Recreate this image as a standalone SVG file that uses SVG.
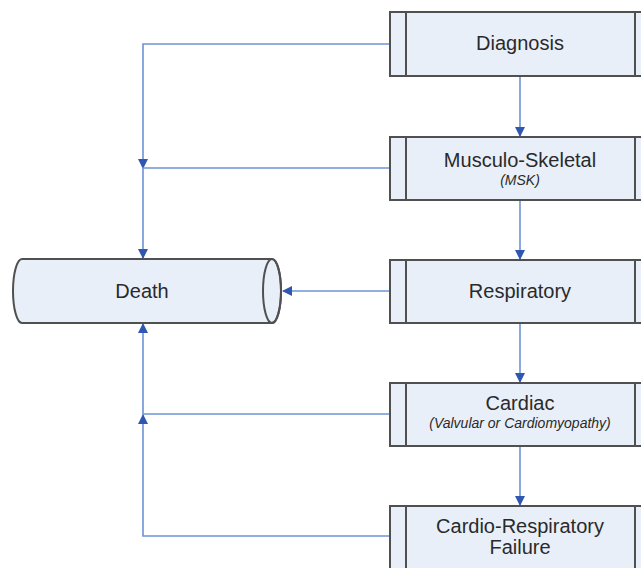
<svg xmlns="http://www.w3.org/2000/svg" width="641" height="568" viewBox="0 0 641 568">
<defs>
<style>
.box{fill:#e9eff9;stroke:#505050;stroke-width:2}
.bar{fill:none;stroke:#505050;stroke-width:2}
.ln{fill:none;stroke:#6f93d6;stroke-width:1.6}
.t{font-family:"Liberation Sans",Arial,sans-serif;font-size:20px;fill:#2a2a2a;text-anchor:middle}
.s{font-family:"Liberation Sans",Arial,sans-serif;font-size:14px;font-style:italic;fill:#2a2a2a;text-anchor:middle}
</style>
<marker id="ah" viewBox="0 0 10 10" refX="9" refY="5" markerWidth="10" markerHeight="10" markerUnits="userSpaceOnUse" orient="auto">
<path d="M0,0 L10,5 L0,10 Z" fill="#2f56b0"/>
</marker>
</defs>
<g id="connectors">
<path class="ln" d="M520,76 V136" marker-end="url(#ah)"/>
<path class="ln" d="M520,200 V259" marker-end="url(#ah)"/>
<path class="ln" d="M520,323 V382" marker-end="url(#ah)"/>
<path class="ln" d="M520,446 V505" marker-end="url(#ah)"/>
<path class="ln" d="M390,44 H143 V168" marker-end="url(#ah)"/>
<path class="ln" d="M390,168 H143 V258" marker-end="url(#ah)"/>
<path class="ln" d="M390,291 H283" marker-end="url(#ah)"/>
<path class="ln" d="M390,414 H143 V324" marker-end="url(#ah)"/>
<path class="ln" d="M390,536 H143 V415" marker-end="url(#ah)"/>
</g>
<g id="death">
<path class="box" d="M22,259 H272 A9,32 0 0 1 272,323 H22 A9,32 0 0 1 22,259 Z"/>
<ellipse cx="272" cy="291" rx="9" ry="32" class="bar"/>
<text class="t" x="142" y="298">Death</text>
</g>
<g id="diagnosis">
<rect class="box" x="390" y="12" width="260" height="64"/>
<path class="bar" d="M406,12 V76 M635,12 V76"/>
<text class="t" x="520" y="50">Diagnosis</text>
</g>
<g id="msk">
<rect class="box" x="390" y="137" width="260" height="63"/>
<path class="bar" d="M406,137 V200 M635,137 V200"/>
<text class="t" x="520" y="167">Musculo-Skeletal</text>
<text class="s" x="520" y="185">(MSK)</text>
</g>
<g id="respiratory">
<rect class="box" x="390" y="260" width="260" height="63"/>
<path class="bar" d="M406,260 V323 M635,260 V323"/>
<text class="t" x="520" y="298">Respiratory</text>
</g>
<g id="cardiac">
<rect class="box" x="390" y="383" width="260" height="63"/>
<path class="bar" d="M406,383 V446 M635,383 V446"/>
<text class="t" x="520" y="410">Cardiac</text>
<text class="s" x="520" y="428">(Valvular or Cardiomyopathy)</text>
</g>
<g id="crf">
<rect class="box" x="390" y="506" width="260" height="70"/>
<path class="bar" d="M406,506 V576 M635,506 V576"/>
<text class="t" x="520" y="533">Cardio-Respiratory</text>
<text class="t" x="520" y="554">Failure</text>
</g>
</svg>
